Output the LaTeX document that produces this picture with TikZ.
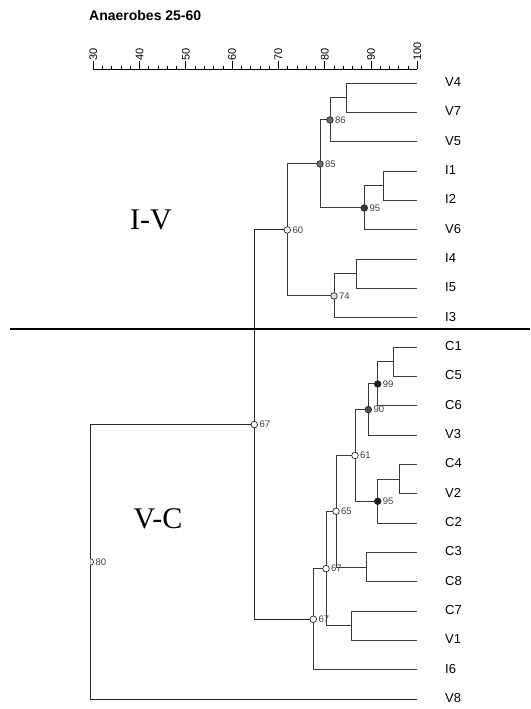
\documentclass[tikz,border=0pt]{standalone}
\usepackage{fontspec}
\setmainfont{Liberation Sans}
\newfontfamily\seriffont{Liberation Serif}
\usetikzlibrary{backgrounds}
\definecolor{edgecol}{HTML}{3A3A3A}
\definecolor{midgray}{HTML}{6E6E6E}
\definecolor{darkgray}{HTML}{505050}
\definecolor{nearblack}{HTML}{1E1E1E}
\definecolor{lightgray}{HTML}{DCDCDC}
\tikzset{
  br/.style={draw=edgecol, line width=1pt},
  jn/.style={circle, draw=black!85, line width=0.7pt, minimum size=6.6pt, inner sep=0pt},
  val/.style={anchor=west, inner sep=0pt, font=\fontsize{9.5}{9.5}\selectfont, text=black!75},
  leaf/.style={anchor=west, inner sep=0pt, font=\fontsize{13}{13}\selectfont},
  axtick/.style={draw=black, line width=0.8pt},
  axlabel/.style={rotate=90, anchor=west, inner sep=0.3pt, font=\fontsize{11}{11}\selectfont},
  grp/.style={inner sep=0pt, font=\seriffont\fontsize{30}{30}\selectfont},
}
\begin{document}
\begin{tikzpicture}[x=1pt,y=-1pt]
\useasboundingbox (0,0) rectangle (530,709);

% title
\node[anchor=west, inner sep=0pt, font=\bfseries\fontsize{14}{14}\selectfont] (title) at (89,15) {Anaerobes 25-60};

% axis
\draw[axtick] (93.3,69.3) -- (417.3,69.3);
\foreach \v in {30,32,...,100} {
  \pgfmathsetmacro\xx{93.3+(\v-30)*4.6286}
  \draw[axtick] (\xx,69.3) -- (\xx,66);
}
\foreach \v in {30,40,...,100} {
  \pgfmathsetmacro\xx{93.3+(\v-30)*4.6286}
  \draw[axtick] (\xx,69.3) -- (\xx,61);
  \node[axlabel] (ax\v) at (\xx,61) {\v};
}

% leaves
\foreach \n [count=\i from 0] in {V4,V7,V5,I1,I2,V6,I4,I5,I3,C1,C5,C6,V3,C4,V2,C2,C3,C8,C7,V1,I6,V8} {
  \coordinate (e\n) at (417,{83.3+29.33*\i});
  \node[leaf] (\n) at (445,{83.3+29.33*\i-1.2}) {\n};
}

% plain joins
\coordinate (jV47) at (346.7,{83.3+29.33*0.5});
\coordinate (jI12) at (383.3,{83.3+29.33*3.5});
\coordinate (jI45) at (356.7,{83.3+29.33*6.5});
\coordinate (jC15) at (393.3,{83.3+29.33*9.5});
\coordinate (jC4V2) at (399.3,{83.3+29.33*13.5});
\coordinate (jC38) at (366.7,{83.3+29.33*16.5});
\coordinate (jC7V1) at (351,{83.3+29.33*18.5});

% marked joins
\node[jn, fill=midgray] (n86) at (330,{83.3+29.33*1.25}) {};
\node[jn, fill=darkgray!70!black] (n95a) at (364.3,{83.3+29.33*4.25}) {};
\node[jn, fill=midgray] (n85) at (320,{83.3+29.33*2.75}) {};
\node[jn, fill=lightgray] (n74) at (334,{83.3+29.33*7.25}) {};
\node[jn, fill=white] (n60) at (287.3,{83.3+29.33*5}) {};
\node[jn, fill=nearblack] (n99) at (377.7,{83.3+29.33*10.25}) {};
\node[jn, fill=darkgray] (n90) at (368.3,{83.3+29.33*11.125}) {};
\node[jn, fill=nearblack] (n95b) at (377.7,{83.3+29.33*14.25}) {};
\node[jn, fill=white] (n61) at (355,{83.3+29.33*12.6875}) {};
\node[jn, fill=white] (n65) at (336,{83.3+29.33*14.59375}) {};
\node[jn, fill=white] (n67c) at (326,{83.3+29.33*16.546875}) {};
\node[jn, fill=white] (n67b) at (313.3,{83.3+29.33*18.2734375}) {};
\node[jn, fill=white] (n67a) at (254.3,{83.3+29.33*11.63671875}) {};
\begin{scope}
  \clip (90.3,400) rectangle (530,709);
  \node[jn, fill=white] (n80) at (90.3,{83.3+29.33*16.318359375}) {};
\end{scope}

% value labels
\node[val] (l86) at ([xshift=5pt]n86.center) {86};
\node[val] (l95a) at ([xshift=5pt]n95a.center) {95};
\node[val] (l85) at ([xshift=5pt]n85.center) {85};
\node[val] (l74) at ([xshift=5pt]n74.center) {74};
\node[val] (l60) at ([xshift=5pt]n60.center) {60};
\node[val] (l99) at ([xshift=5pt]n99.center) {99};
\node[val] (l90) at ([xshift=5pt]n90.center) {90};
\node[val] (l95b) at ([xshift=5pt]n95b.center) {95};
\node[val] (l61) at ([xshift=5pt]n61.center) {61};
\node[val] (l65) at ([xshift=5pt]n65.center) {65};
\node[val] (l67c) at ([xshift=5pt]n67c.center) {67};
\node[val] (l67b) at ([xshift=5pt]n67b.center) {67};
\node[val] (l67a) at ([xshift=5pt]n67a.center) {67};
\node[val] (l80) at ([xshift=5pt]n80.center) {80};

% branches
\begin{scope}[on background layer]
  \draw[br] (jV47) |- (eV4);  \draw[br] (jV47) |- (eV7);
  \draw[br] (n86.center) |- (jV47);  \draw[br] (n86.center) |- (eV5);
  \draw[br] (jI12) |- (eI1);  \draw[br] (jI12) |- (eI2);
  \draw[br] (n95a.center) |- (jI12);  \draw[br] (n95a.center) |- (eV6);
  \draw[br] (n85.center) |- (n86.center);  \draw[br] (n85.center) |- (n95a.center);
  \draw[br] (jI45) |- (eI4);  \draw[br] (jI45) |- (eI5);
  \draw[br] (n74.center) |- (jI45);  \draw[br] (n74.center) |- (eI3);
  \draw[br] (n60.center) |- (n85.center);  \draw[br] (n60.center) |- (n74.center);
  \draw[br] (jC15) |- (eC1);  \draw[br] (jC15) |- (eC5);
  \draw[br] (n99.center) |- (jC15);  \draw[br] (n99.center) |- (eC6);
  \draw[br] (n90.center) |- (n99.center);  \draw[br] (n90.center) |- (eV3);
  \draw[br] (jC4V2) |- (eC4);  \draw[br] (jC4V2) |- (eV2);
  \draw[br] (n95b.center) |- (jC4V2);  \draw[br] (n95b.center) |- (eC2);
  \draw[br] (n61.center) |- (n90.center);  \draw[br] (n61.center) |- (n95b.center);
  \draw[br] (jC38) |- (eC3);  \draw[br] (jC38) |- (eC8);
  \draw[br] (n65.center) |- (n61.center);  \draw[br] (n65.center) |- (jC38);
  \draw[br] (jC7V1) |- (eC7);  \draw[br] (jC7V1) |- (eV1);
  \draw[br] (n67c.center) |- (n65.center);  \draw[br] (n67c.center) |- (jC7V1);
  \draw[br] (n67b.center) |- (n67c.center);  \draw[br] (n67b.center) |- (eI6);
  \draw[br, draw=black!85] (n67a.center) |- (n60.center);  \draw[br, draw=black!85] (n67a.center) |- (n67b.center);
  \draw[br, draw=black!85] (n80.center) |- (n67a.center);  \draw[br, draw=black!85] (n80.center) |- (eV8);
\end{scope}

% separator
\draw[line width=1.8pt] (10,329) -- (530,329);

% group labels
\node[grp] (IV) at (151,220) {I-V};
\node[grp] (VC) at (158,519) {V-C};
\end{tikzpicture}
\end{document}
